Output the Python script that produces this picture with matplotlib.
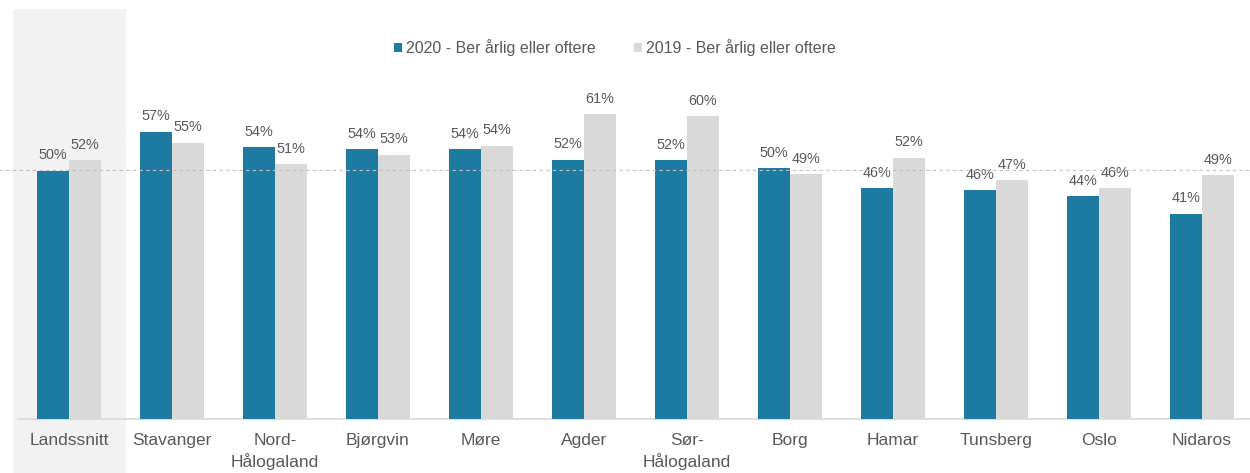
"""Grouped bars: share who pray yearly or more often, 2020 vs 2019, per diocese."""

import matplotlib

matplotlib.use("Agg")
import matplotlib.pyplot as plt
import matplotlib.transforms as mtransforms
import numpy as np
from matplotlib.patches import Rectangle

plt.rcParams["font.family"] = ["Liberation Sans", "DejaVu Sans"]

categories = [
    "Landssnitt", "Stavanger", "Nord-\nHålogaland", "Bjørgvin", "Møre", "Agder",
    "Sør-\nHålogaland", "Borg", "Hamar", "Tunsberg", "Oslo", "Nidaros",
]
values_2020 = [49.9, 57.7, 54.6, 54.2, 54.2, 52.1, 52.0, 50.4, 46.3, 46.0, 44.8, 41.2]
values_2019 = [52.0, 55.5, 51.2, 53.1, 54.9, 61.2, 60.9, 49.2, 52.5, 47.9, 46.4, 49.0]
labels_2020 = [50, 57, 54, 54, 54, 52, 52, 50, 46, 46, 44, 41]
labels_2019 = [52, 55, 51, 53, 54, 61, 60, 49, 52, 47, 46, 49]
series_names = ["2020 - Ber årlig eller oftere", "2019 - Ber årlig eller oftere"]
reference_level = 50

_BLUE = "#1d7ba2"
_GRAY = "#d9d9d9"
_TEXT = "#595959"


def main() -> None:
    fig = plt.figure(figsize=(12.5, 4.73), dpi=100)
    ax = fig.add_axes([17.7 / 1250, 0.1152, 1 - 17.7 / 1250, 0.8406])
    ax.patch.set_visible(False)

    x = np.arange(len(categories))
    width = 0.311
    b20 = ax.bar(x - width / 2, values_2020, width, color=_BLUE, label=series_names[0], zorder=2)
    b19 = ax.bar(x + width / 2, values_2019, width, color=_GRAY, label=series_names[1], zorder=2)

    for bars, labels in ((b20, labels_2020), (b19, labels_2019)):
        for rect, lab in zip(bars, labels):
            ax.annotate(
                f"{lab}%",
                (rect.get_x() + rect.get_width() / 2, rect.get_height()),
                xytext=(0, 11),
                textcoords="offset points",
                ha="center",
                va="center",
                fontsize=10.4,
                color=_TEXT,
            )

    # highlight band behind the national average
    trans = mtransforms.blended_transform_factory(ax.transData, fig.transFigure)
    band = Rectangle((-0.545, 0), 1.098, 1 - 9 / 473, transform=trans,
                     facecolor="#f2f2f2", edgecolor="none", zorder=0, clip_on=False)
    ax.add_patch(band)

    ax.axhline(reference_level, xmin=-0.02, xmax=1, color="#bfbfbf", linestyle=(0, (3, 3)),
               linewidth=0.8, zorder=3, clip_on=False)

    ax.set_xlim(-0.498, 11.466)
    ax.set_ylim(0, 80)
    ax.set_yticks([])
    ax.set_xticks(x)
    ax.set_xticklabels(categories, fontsize=12.5, color=_TEXT, linespacing=1.38)
    ax.tick_params(axis="x", length=0, pad=10.3)
    for side in ("top", "right", "left"):
        ax.spines[side].set_visible(False)
    ax.spines["bottom"].set_color("#d9d9d9")
    ax.spines["bottom"].set_linewidth(1.2)
    ax.spines["bottom"].set_zorder(1)

    fig.legend(
        handles=[b20, b19],
        loc="center",
        bbox_to_anchor=(614.5 / 1250, 1 - 48 / 473),
        ncol=2,
        frameon=False,
        fontsize=11.5,
        labelcolor=_TEXT,
        handlelength=0.5,
        handleheight=0.5,
        handletextpad=0.25,
        columnspacing=2.4,
    )

    fig.savefig("out.png", dpi=100)
    plt.close(fig)


if __name__ == "__main__":
    main()
